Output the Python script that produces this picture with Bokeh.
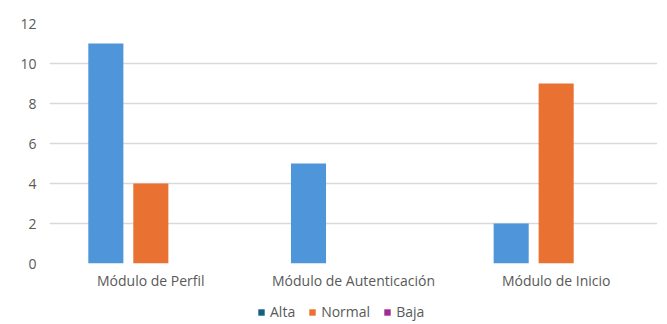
from bokeh.plotting import figure
from bokeh.layouts import column
from bokeh.models import (ColumnDataSource, FactorRange, Range1d, FixedTicker,
                          Legend, LegendItem)
from bokeh.transform import dodge
from bokeh.embed import file_html
from bokeh.resources import INLINE

categories = ["Módulo de Perfil", "Módulo de Autenticación", "Módulo de Inicio"]
series = ["Alta", "Normal", "Baja"]
alta = [11, 5, 2]
normal = [4, 0, 9]
baja = [0, 0, 0]
y_ticks = [0, 2, 4, 6, 8, 10, 12]

bar_colors = ["#4E95D9", "#E97132", "#A02B93"]
legend_colors = ["#156082", "#E97132", "#A02B93"]

src = ColumnDataSource(dict(cat=categories, Alta=alta, Normal=normal, Baja=baja))

FONT = "Open Sans"
GRAY = "#595959"
FS = "14px"

p = figure(width=665, height=294, x_range=FactorRange(*categories),
           y_range=Range1d(0, 12), output_backend="svg", toolbar_location=None,
           min_border_left=49, min_border_right=8, min_border_top=23,
           min_border_bottom=31)
p.outline_line_color = None
p.background_fill_color = "white"
p.border_fill_color = "white"

offsets = [-0.222, 0.0, 0.222]
for s, off, c in zip(series, offsets, bar_colors):
    p.vbar(x=dodge("cat", off, range=p.x_range), top=s, width=0.173,
           source=src, fill_color=c, line_color=None)

p.yaxis.ticker = FixedTicker(ticks=y_ticks)
p.yaxis.axis_line_color = None
p.yaxis.major_tick_line_color = None
p.yaxis.minor_tick_line_color = None
p.yaxis.major_tick_out = 0
p.yaxis.major_label_standoff = 13
p.yaxis.major_label_text_font = FONT
p.yaxis.major_label_text_font_size = FS
p.yaxis.major_label_text_color = GRAY

p.xaxis.axis_line_color = None
p.xaxis.major_tick_line_color = None
p.xaxis.major_tick_out = 0
p.xaxis.major_label_standoff = 7
p.xaxis.major_label_text_font = FONT
p.xaxis.major_label_text_font_size = FS
p.xaxis.major_label_text_color = GRAY

p.xgrid.grid_line_color = None
p.ygrid.ticker = FixedTicker(ticks=y_ticks)
p.ygrid.grid_line_color = "#D9D9D9"
p.ygrid.grid_line_width = 1.5

# separate strip holding the legend below the chart
lg = figure(width=665, height=28, x_range=Range1d(0, 1), y_range=Range1d(0, 1),
            output_backend="svg", toolbar_location=None,
            min_border_left=0, min_border_right=0, min_border_top=0,
            min_border_bottom=0)
lg.axis.visible = False
lg.grid.visible = False
lg.outline_line_color = None
lg.background_fill_color = "white"
lg.border_fill_color = "white"

items = []
for s, c in zip(series, legend_colors):
    r = lg.vbar(x=[0], top=[0], bottom=[0], width=0.0,
                fill_color=c, line_color=None)
    items.append(LegendItem(label=s, renderers=[r]))

legend = Legend(items=items, orientation="horizontal", location=(208, 1),
                glyph_width=8, glyph_height=8, label_text_font=FONT,
                label_text_font_size=FS, label_text_color=GRAY,
                spacing=13, label_standoff=5, padding=4, margin=0,
                border_line_color=None, background_fill_alpha=0)
lg.add_layout(legend)

layout = column(p, lg, spacing=0)
open("out.html", "w").write(file_html(layout, INLINE))
